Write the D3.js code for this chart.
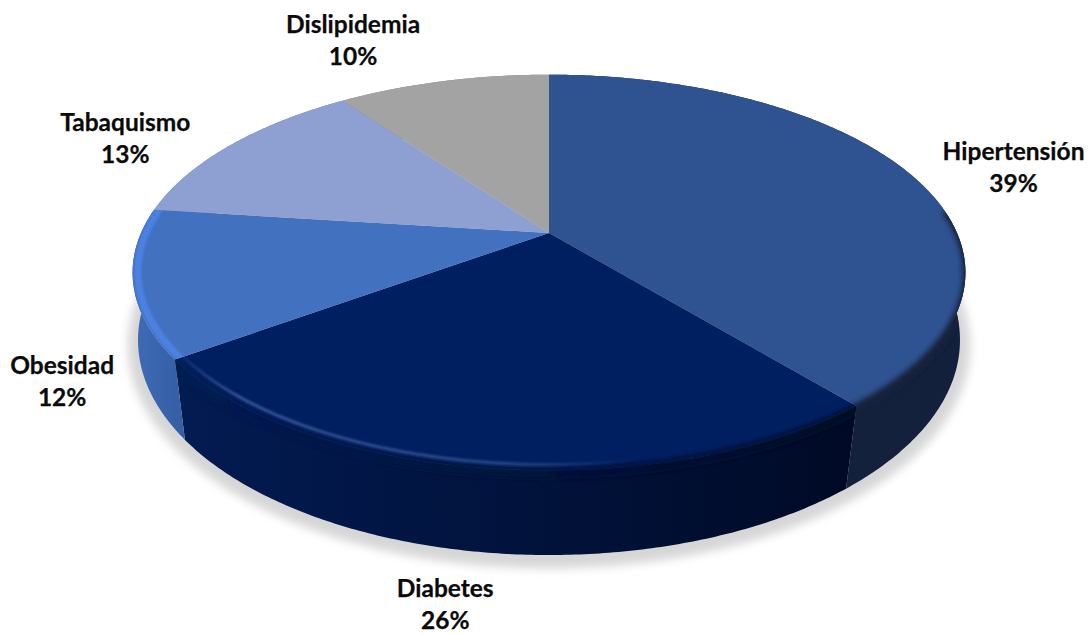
<!DOCTYPE html>
<html>
<head>
<meta charset="utf-8">
<script src="https://cdn.jsdelivr.net/npm/d3@7"></script>
<style>
  html, body { margin: 0; background: #fff; }
  svg { display: block; }
  text { font-family: Lato, "Open Sans", sans-serif; font-weight: 700; font-size: 24.5px; fill: #0a0a0a; stroke: #0a0a0a; stroke-width: 0.25px; }
</style>
</head>
<body>
<div id="chart"></div>
<script>
// Risk factors shares
const categories = ["Hipertensión", "Diabetes", "Obesidad", "Tabaquismo", "Dislipidemia"];
const percents = [39, 26, 12, 13, 10];
const topColors = ["#2f5391", "#001f60", "#4271c0", "#8e9fd2", "#a3a3a3"];
const sideFrom = ["#15233f", "#021b52", "#3f6cb8", "#6f7ea8", "#808080"];
const sideTo = ["#13203b", "#000a26", "#3660a6", "#6f7ea8", "#808080"];
// label offset from the rim point at the middle of each slice
const labelDx = [105, -40, -71, -105, -90];
const labelDy = [-13, 129, 91, -14, -48];

const width = 1089, height = 634;
const cx = 549;

// perspective planes of the disc: top face, bottom face, ground shadow
const topPlane = {rx: 408, ry: 190, cy: 233, k: 0.2};
const bottomPlane = {rx: 405, ry: 208.7, cy: 303.6, k: 0.17};
const shadowPlane = {rx: 415, ry: 216, cy: 308, k: 0.17};

function project(angle, r, plane) {
    const u = r * Math.sin(angle);
    const v = -r * Math.cos(angle);
    const w = 1 - plane.k * v;
    return [cx + plane.rx * u / w, plane.cy + plane.ry * v / w];
}

function arcPoints(a0, a1, r, plane) {
    const n = Math.max(2, Math.ceil((a1 - a0) / 0.01));
    return d3.range(n + 1).map(i => project(a0 + (a1 - a0) * i / n, r, plane));
}

const line = d3.line();
const slices = d3.pie().sort(null).value(d => d)(percents);

const svg = d3.select("#chart").append("svg")
    .attr("width", width)
    .attr("height", height);
const defs = svg.append("defs");

function blur(id, sd) {
    defs.append("filter").attr("id", id)
        .attr("filterUnits", "userSpaceOnUse")
        .attr("x", 0).attr("y", 0).attr("width", width).attr("height", height)
        .append("feGaussianBlur").attr("stdDeviation", sd);
}
blur("blurShadow", 5);
blur("blurRim", 2.6);
blur("blurLine", 1.2);

function hGradient(id, x1, x2, stops) {
    const g = defs.append("linearGradient").attr("id", id)
        .attr("gradientUnits", "userSpaceOnUse")
        .attr("x1", x1).attr("x2", x2).attr("y1", 0).attr("y2", 0);
    stops.forEach(s => g.append("stop")
        .attr("offset", s[0])
        .attr("stop-color", s[1])
        .attr("stop-opacity", s[2] === undefined ? 1 : s[2]));
}

// ground shadow
svg.append("path")
    .attr("d", line(arcPoints(0, 2 * Math.PI, 1, shadowPlane)) + "Z")
    .attr("fill", "#d6d6d6")
    .attr("filter", "url(#blurShadow)");

function sidePath(s) {
    const a = arcPoints(s.startAngle, s.endAngle, 1, topPlane);
    const b = arcPoints(s.startAngle, s.endAngle, 1, bottomPlane).reverse();
    return line(a.concat(b)) + "Z";
}
function topPath(s) {
    const a = arcPoints(s.startAngle, s.endAngle, 1, topPlane);
    return line([project(0, 0, topPlane)].concat(a)) + "Z";
}

// outer wall of each slice
slices.forEach((s, i) => {
    const xs = arcPoints(s.startAngle, s.endAngle, 1, topPlane).map(p => p[0]);
    hGradient("side" + i, d3.min(xs), d3.max(xs), [[0, sideFrom[i]], [1, sideTo[i]]]);
});
svg.append("g").selectAll("path")
    .data(slices)
    .join("path")
    .attr("d", sidePath)
    .attr("fill", (d, i) => `url(#side${i})`);

// flat top of each slice
svg.append("g").selectAll("path")
    .data(slices)
    .join("path")
    .attr("d", topPath)
    .attr("fill", (d, i) => topColors[i]);

// soft bevel along the front of the rim, kept inside its own slice
slices.forEach((s, i) => {
    defs.append("clipPath").attr("id", "clip" + i)
        .append("path").attr("d", topPath(s) + sidePath(s));
});

function rim(i, a0, a1, r, color, strokeWidth, filter) {
    d3.select("#rims").append("g")
        .attr("clip-path", `url(#clip${i})`)
        .append("path")
        .attr("d", line(arcPoints(a0, a1, r, topPlane)))
        .attr("fill", "none")
        .attr("stroke", color)
        .attr("stroke-width", strokeWidth)
        .attr("filter", `url(#${filter})`);
}

svg.append("g").attr("id", "rims");
const hip = slices[0], dia = slices[1], obe = slices[2];

rim(0, 1.45, hip.endAngle + 0.05, 1.004, "url(#side0)", 9, "blurRim");
rim(1, dia.startAngle - 0.05, dia.endAngle + 0.05, 1.01, "url(#side1)", 11, "blurRim");
hGradient("shine", 185, 640, [[0, "#3e5f9c", 0.25], [0.12, "#3e5f9c", 0.85], [0.7, "#3e5f9c", 0.65], [1, "#3e5f9c", 0]]);
rim(1, dia.startAngle, dia.endAngle, 0.98, "url(#shine)", 3, "blurLine");
rim(2, obe.startAngle - 0.05, obe.endAngle + 0.05, 0.988, "#4c82e2", 7, "blurLine");

// labels
const labels = svg.append("g").selectAll("text")
    .data(slices)
    .join("text")
    .attr("text-anchor", "middle")
    .attr("transform", (d, i) => {
        const p = project((d.startAngle + d.endAngle) / 2, 1, topPlane);
        return `translate(${p[0] + labelDx[i]},${p[1] + labelDy[i]})`;
    });
labels.append("tspan").attr("x", 0).attr("y", 0).text((d, i) => categories[i]);
labels.append("tspan").attr("x", 0).attr("y", 32).text(d => d.value + "%");
</script>
</body>
</html>
